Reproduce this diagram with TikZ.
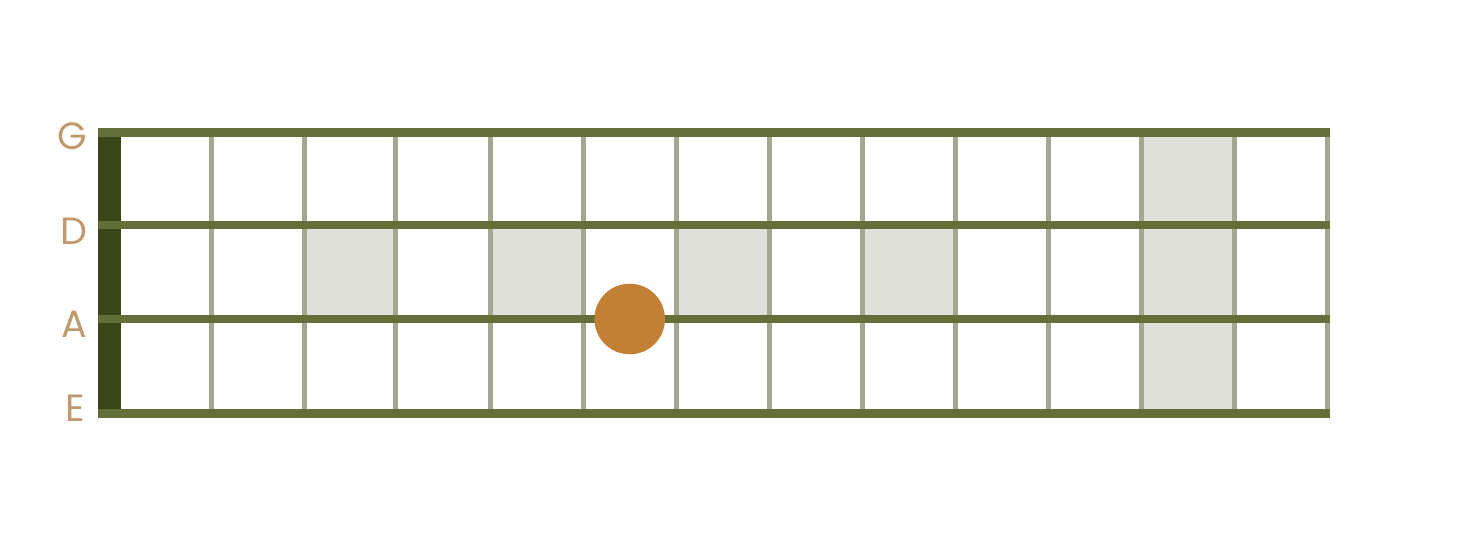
\documentclass[tikz,border=0pt]{standalone}
\usepackage{fontspec}
\setsansfont{Poppins}
\usetikzlibrary{positioning}

\definecolor{StringGreen}{HTML}{636E38}
\definecolor{NutGreen}{HTML}{3B4518}
\definecolor{FretGrey}{HTML}{A4A792}
\definecolor{MarkerGrey}{HTML}{DFE0DA}
\definecolor{LabelTan}{HTML}{C09A6E}
\definecolor{NoteOrange}{HTML}{C28037}

\begin{document}
\begin{tikzpicture}[x=1pt,y=-1pt]
			\tikzstyle{Label}	= [font=\sffamily\fontsize{38}{38}\selectfont, text=LabelTan, inner sep=0pt]
			\tikzstyle{String}	= [line width=8.5pt, StringGreen]
			\tikzstyle{Fret}	= [line width=5pt, FretGrey]
			\tikzstyle{Marker}	= [fill=MarkerGrey]
			\tikzstyle{Nut}		= [fill=NutGreen]
			\tikzstyle{Note}	= [circle, fill=NoteOrange, minimum size=70.6pt, inner sep=0pt]

			\useasboundingbox (0,0) rectangle (1469,549);

			% string ends
			\coordinate (G-start) at (98.3,132.5);
			\coordinate (D-start) at (98.3,225);
			\coordinate (A-start) at (98.3,319);
			\coordinate (E-start) at (98.3,413.5);
			\coordinate (G-end) at (1330,132.5);
			\coordinate (D-end) at (1330,225);
			\coordinate (A-end) at (1330,319);
			\coordinate (E-end) at (1330,413.5);

			% frets
			\foreach \n/\x in {0/110, 1/211.5, 2/304.5, 3/395.5, 4/490.5, 5/583.5, 6/676.5,
				7/769.5, 8/862.5, 9/955.5, 10/1048.5, 11/1141.5, 12/1234.5, 13/1327} {
				\coordinate (fret\n-top) at (\x,132.5);
				\coordinate (fret\n-bot) at (\x,413.5);
			}

			% position markers
			\foreach \a/\b in {2/3, 4/5, 6/7, 8/9} {
				\fill [Marker] (fret\a-top |- D-start) rectangle (fret\b-top |- A-start);
			}
			\fill [Marker] (fret11-top) rectangle (fret12-bot);

			\foreach \n in {1,...,13} {
				\draw [Fret] (fret\n-top) -- (fret\n-bot);
			}

			\fill [Nut] (G-start) rectangle (121,413.5);

			\foreach \s in {G,D,A,E} {
				\draw [String] (\s-start) -- (\s-end);
			}

			\node (labelG) at (72,136.7) [Label] {G};
			\node (labelD) at (74,231.7) [Label] {D};
			\node (labelA) at (74.5,324.7) [Label] {A};
			\node (labelE) at (75.5,408.7) [Label] {E};

			\node (note) at (629.7,319) [Note] {};

		\end{tikzpicture}
\end{document}
